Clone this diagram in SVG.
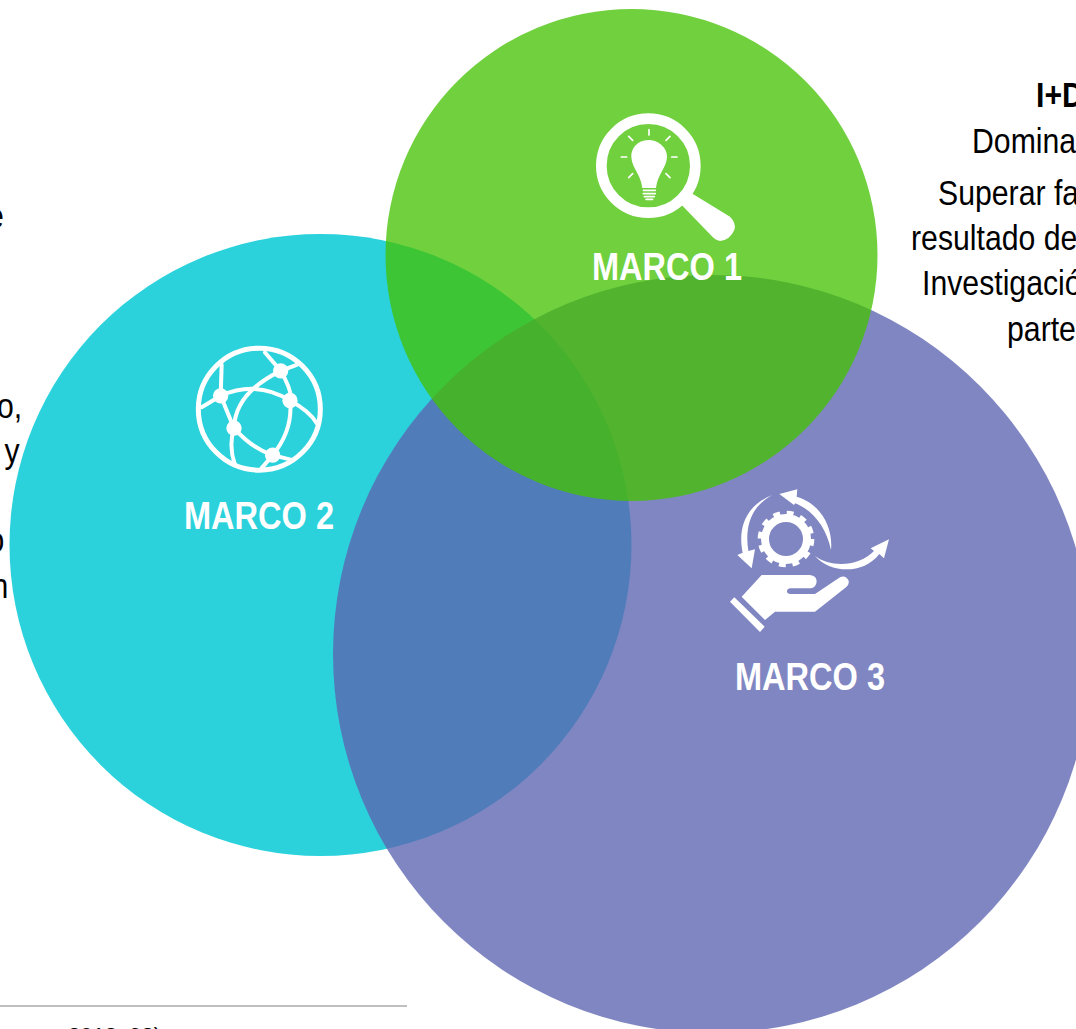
<svg xmlns="http://www.w3.org/2000/svg" width="1076" height="1029" viewBox="0 0 1076 1029">
<style>
.t{font-family:"Liberation Sans",Arial,sans-serif;font-size:36px;fill:#000}
.b{font-weight:700}
.m{font-family:"Liberation Sans",Arial,sans-serif;font-size:39px;font-weight:700;fill:#fff}
.f{font-family:"Liberation Sans",Arial,sans-serif;font-size:22px;fill:#000}
.w{fill:#fff}
.ws{fill:none;stroke:#fff;stroke-linecap:round}
</style>
<rect width="1076" height="1029" fill="#fff"/>
<g id="left-text">
<text class="t" transform="translate(-13,228) scale(.84,1)">e</text>
<text class="t" transform="translate(-3,418) scale(.84,1)">o,</text>
<text class="t" transform="translate(4.5,463) scale(.84,1)">y</text>
<text class="t" transform="translate(-12.5,552) scale(.84,1)">o</text>
<text class="t" transform="translate(-8.5,598) scale(.84,1)">n</text>
</g>
<g id="right-text">
<text class="t b" transform="translate(1036,107) scale(.84,1)">I+D</text>
<text class="t" transform="translate(972,153) scale(.84,1)">Domina</text>
<text class="t" transform="translate(938,205) scale(.84,1)">Superar fa</text>
<text class="t" transform="translate(911,250) scale(.84,1)">resultado de</text>
<text class="t" transform="translate(922,295) scale(.84,1)">Investigació</text>
<text class="t" transform="translate(1007,341) scale(.84,1)">parte</text>
</g>
<g id="footnote">
<rect x="0" y="1005" width="407" height="2" fill="#bfbfbf"/>
<text class="f" x="68" y="1043">2018: 98)</text>
</g>
<g id="circles">
<circle id="circle-2" cx="320.500" cy="545" r="311" fill="#2bd2dc"/>
<circle id="circle-3" cx="712" cy="654" r="379" fill="#5c64b1" fill-opacity=".78"/>
<circle id="circle-1" cx="631.500" cy="255" r="246" fill="#43c100" fill-opacity=".76"/>
</g>
<g id="marco-1">
<g transform="translate(580,100) scale(.33333)">
<circle cx="205" cy="197" r="141" fill="none" stroke="#fff" stroke-width="32"/>
<path class="w" d="M335 280L450 350Q470 370 463 390Q450 420 420 423Q405 420 395 408L305 315Z"/>
<path class="w" d="M205 120C172 120 152 146 154 172C156 205 182 222 187 264H228C233 222 259 205 261 172C263 146 238 120 205 120Z"/>
<path class="ws" stroke-width="5" d="M190 271H226M190 281H226M193 290H223M198 298H218"/>
<path class="ws" stroke-width="5" d="M207 89V105M124 171H140M275 171H291M146 109L158 121M270 109L258 121M146 233L158 221M270 233L258 221"/>
</g>
<text class="m" transform="translate(592,280) scale(.835,1)">MARCO 1</text>
</g>
<g id="marco-2">
<g transform="translate(180,336.500) scale(.33333)">
<circle cx="238" cy="218" r="183" fill="none" stroke="#fff" stroke-width="15"/>
<path class="ws" stroke-width="12" stroke-linecap="butt" d="M255 48L302 103L350 85M302 103Q340 170 330 192Q390 225 410 260M330 192Q340 280 278 356L245 395M278 356L335 370M278 356Q215 335 162 275Q145 330 165 385M122 178L162 275M122 178L65 212M122 178L125 85M122 178Q230 130 330 192M302 103Q165 170 162 275"/>
<circle class="w" cx="302" cy="103" r="23"/>
<circle class="w" cx="122" cy="178" r="23"/>
<circle class="w" cx="330" cy="192" r="23"/>
<circle class="w" cx="162" cy="275" r="23"/>
<circle class="w" cx="278" cy="356" r="23"/>
</g>
<text class="m" transform="translate(184,529) scale(.835,1)">MARCO 2</text>
</g>
<g id="marco-3">
<g transform="translate(720,480) scale(.33333)">
<circle cx="198" cy="177" r="63" fill="none" stroke="#fff" stroke-width="24"/>
<circle cx="198" cy="177" r="78" fill="none" stroke="#fff" stroke-width="14" stroke-dasharray="20.400 20.440"/>
<path class="w" d="M333 210C340 140 300 70 230 50L232 28L178 42L222 75L225 70C280 90 320 145 333 210Z"/>
<path class="w" d="M158 45C90 70 50 130 68 218L52 225L95 265L105 208L85 213C72 130 100 75 158 45Z"/>
<path class="w" d="M285 228C330 262 415 262 462 213L452 205L507 178L492 235L478 222C430 285 330 280 285 228Z"/>
<path class="w" d="M125 285H270Q290 287 290 305Q288 323 272 325H212Q201 326 201 334Q201 342 212 342H285L360 292Q375 285 385 300Q390 312 378 322L285 395H165L135 420L65 350Z"/>
<path class="w" d="M30 365L43 352L134 440L120 456Z"/>
</g>
<text class="m" transform="translate(735,690) scale(.835,1)">MARCO 3</text>
</g>
</svg>
